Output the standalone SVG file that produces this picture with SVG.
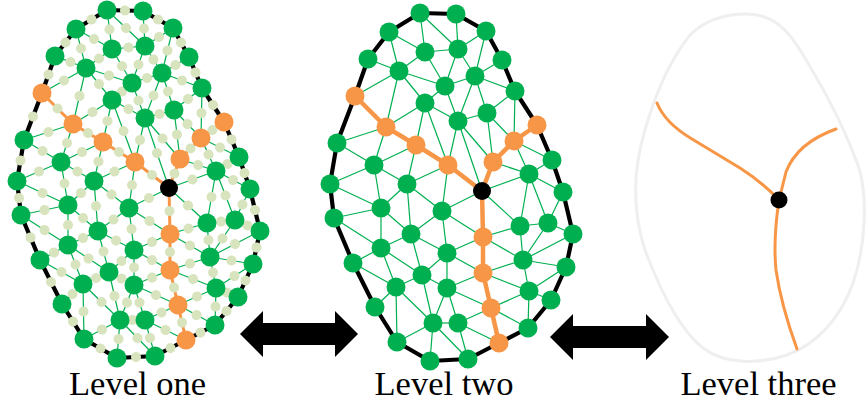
<svg xmlns="http://www.w3.org/2000/svg" xmlns:xlink="http://www.w3.org/1999/xlink" width="866" height="409" viewBox="0 0 866 409">
<style>
.edge{fill:none;stroke:#00B050;stroke-width:1.2}
.dots{fill:none;stroke:#D7E4BD;stroke-width:10;stroke-linecap:round;stroke-dasharray:0.002 0.998;stroke-dashoffset:0.501}
.outl{fill:none;stroke:#000;stroke-width:4.2;stroke-linejoin:round}
.rt1{fill:none;stroke:#F79646;stroke-width:3;stroke-linejoin:round;stroke-linecap:round}
.rt2{fill:none;stroke:#F79646;stroke-width:4.5;stroke-linejoin:round;stroke-linecap:round}
.g{fill:#00B050}
.o{fill:#F79646}
.k{fill:#000}
.lbl{font-family:"Liberation Serif","Times New Roman",serif;font-size:34.5px;fill:#000;text-anchor:middle}
.arrow{fill:#000}
</style>
<defs>
<g id="mesh-edges">
<path d="M420 13L456 14" pathLength="1"/><path d="M456 14L486 31" pathLength="1"/><path d="M486 31L502 60" pathLength="1"/><path d="M502 60L515 91" pathLength="1"/><path d="M515 91L537 125" pathLength="1"/><path d="M537 125L552 160" pathLength="1"/><path d="M552 160L563 192" pathLength="1"/><path d="M563 192L573 234" pathLength="1"/><path d="M573 234L566 267" pathLength="1"/><path d="M566 267L551 300" pathLength="1"/><path d="M551 300L528 328" pathLength="1"/><path d="M528 328L499 343" pathLength="1"/><path d="M499 343L468 359" pathLength="1"/><path d="M468 359L430 361" pathLength="1"/><path d="M430 361L397 342" pathLength="1"/><path d="M397 342L375 307" pathLength="1"/><path d="M375 307L353 263" pathLength="1"/><path d="M353 263L334 218" pathLength="1"/><path d="M334 218L330 184" pathLength="1"/><path d="M330 184L337 143" pathLength="1"/><path d="M337 143L355 96" pathLength="1"/><path d="M355 96L368 59" pathLength="1"/><path d="M368 59L389 32" pathLength="1"/><path d="M389 32L420 13" pathLength="1"/>
<path d="M420 13L425 52" pathLength="1"/><path d="M420 13L458 49" pathLength="1"/><path d="M456 14L458 49" pathLength="1"/><path d="M389 32L425 52" pathLength="1"/><path d="M389 32L399 71" pathLength="1"/><path d="M368 59L399 71" pathLength="1"/><path d="M355 96L399 71" pathLength="1"/><path d="M425 52L399 71" pathLength="1"/><path d="M425 52L458 49" pathLength="1"/><path d="M425 52L445 86" pathLength="1"/><path d="M458 49L445 86" pathLength="1"/><path d="M458 49L475 76" pathLength="1"/><path d="M458 49L486 31" pathLength="1"/><path d="M486 31L475 76" pathLength="1"/><path d="M502 60L475 76" pathLength="1"/><path d="M475 76L515 91" pathLength="1"/><path d="M475 76L445 86" pathLength="1"/><path d="M475 76L487 113" pathLength="1"/><path d="M487 113L515 91" pathLength="1"/><path d="M399 71L445 86" pathLength="1"/><path d="M399 71L425 103" pathLength="1"/><path d="M399 71L386 127" pathLength="1"/><path d="M445 86L425 103" pathLength="1"/><path d="M445 86L458 121" pathLength="1"/><path d="M425 103L458 121" pathLength="1"/><path d="M425 103L386 127" pathLength="1"/><path d="M425 103L416 145" pathLength="1"/><path d="M425 103L448 165" pathLength="1"/><path d="M458 121L448 165" pathLength="1"/><path d="M458 121L487 113" pathLength="1"/><path d="M458 121L493 162" pathLength="1"/><path d="M458 121L482 191" pathLength="1"/><path d="M487 113L493 162" pathLength="1"/><path d="M487 113L514 141" pathLength="1"/><path d="M515 91L514 141" pathLength="1"/><path d="M514 141L529 174" pathLength="1"/><path d="M514 141L552 160" pathLength="1"/><path d="M493 162L529 174" pathLength="1"/><path d="M482 191L529 174" pathLength="1"/><path d="M529 174L552 160" pathLength="1"/><path d="M529 174L563 192" pathLength="1"/><path d="M529 174L520 226" pathLength="1"/><path d="M529 174L548 223" pathLength="1"/><path d="M548 223L563 192" pathLength="1"/><path d="M548 223L573 234" pathLength="1"/><path d="M548 223L520 226" pathLength="1"/><path d="M548 223L523 260" pathLength="1"/><path d="M523 260L573 234" pathLength="1"/><path d="M523 260L566 267" pathLength="1"/><path d="M520 226L523 260" pathLength="1"/><path d="M520 226L483 237" pathLength="1"/><path d="M520 226L482 191" pathLength="1"/><path d="M523 260L483 237" pathLength="1"/><path d="M523 260L483 273" pathLength="1"/><path d="M529 291L523 260" pathLength="1"/><path d="M529 291L566 267" pathLength="1"/><path d="M529 291L551 300" pathLength="1"/><path d="M529 291L528 328" pathLength="1"/><path d="M529 291L491 308" pathLength="1"/><path d="M529 291L483 273" pathLength="1"/><path d="M386 127L337 143" pathLength="1"/><path d="M386 127L374 165" pathLength="1"/><path d="M337 143L374 165" pathLength="1"/><path d="M330 184L374 165" pathLength="1"/><path d="M374 165L416 145" pathLength="1"/><path d="M374 165L407 184" pathLength="1"/><path d="M416 145L407 184" pathLength="1"/><path d="M448 165L407 184" pathLength="1"/><path d="M442 211L448 165" pathLength="1"/><path d="M442 211L407 184" pathLength="1"/><path d="M442 211L482 191" pathLength="1"/><path d="M442 211L483 237" pathLength="1"/><path d="M442 211L447 253" pathLength="1"/><path d="M442 211L411 234" pathLength="1"/><path d="M407 184L411 234" pathLength="1"/><path d="M407 184L381 208" pathLength="1"/><path d="M374 165L381 208" pathLength="1"/><path d="M330 184L381 208" pathLength="1"/><path d="M334 218L381 208" pathLength="1"/><path d="M334 218L381 248" pathLength="1"/><path d="M353 263L381 248" pathLength="1"/><path d="M353 263L396 287" pathLength="1"/><path d="M375 307L396 287" pathLength="1"/><path d="M397 342L396 287" pathLength="1"/><path d="M397 342L433 323" pathLength="1"/><path d="M430 361L433 323" pathLength="1"/><path d="M381 208L411 234" pathLength="1"/><path d="M381 208L381 248" pathLength="1"/><path d="M411 234L381 248" pathLength="1"/><path d="M411 234L422 275" pathLength="1"/><path d="M411 234L447 253" pathLength="1"/><path d="M381 248L422 275" pathLength="1"/><path d="M381 248L396 287" pathLength="1"/><path d="M422 275L396 287" pathLength="1"/><path d="M422 275L447 253" pathLength="1"/><path d="M422 275L447 288" pathLength="1"/><path d="M422 275L433 323" pathLength="1"/><path d="M396 287L433 323" pathLength="1"/><path d="M447 253L447 288" pathLength="1"/><path d="M447 288L433 323" pathLength="1"/><path d="M447 288L458 323" pathLength="1"/><path d="M447 288L491 308" pathLength="1"/><path d="M447 288L483 273" pathLength="1"/><path d="M433 323L458 323" pathLength="1"/><path d="M458 323L491 308" pathLength="1"/><path d="M458 323L499 343" pathLength="1"/><path d="M458 323L468 359" pathLength="1"/><path d="M433 323L468 359" pathLength="1"/><path d="M447 253L483 237" pathLength="1"/><path d="M447 253L483 273" pathLength="1"/><path d="M491 308L528 328" pathLength="1"/><path d="M475 76L458 121" pathLength="1"/>
<path d="M355 96L386 127" pathLength="1"/><path d="M386 127L416 145" pathLength="1"/><path d="M416 145L448 165" pathLength="1"/><path d="M448 165L482 191" pathLength="1"/><path d="M537 125L514 141" pathLength="1"/><path d="M514 141L493 162" pathLength="1"/><path d="M493 162L482 191" pathLength="1"/><path d="M482 191L483 237" pathLength="1"/><path d="M483 237L483 273" pathLength="1"/><path d="M483 273L491 308" pathLength="1"/><path d="M491 308L499 343" pathLength="1"/>
</g>
<path id="outline" d="M420 13L456 14L486 31L502 60L515 91L537 125L552 160L563 192L573 234L566 267L551 300L528 328L499 343L468 359L430 361L397 342L375 307L353 263L334 218L330 184L337 143L355 96L368 59L389 32Z"/>
<g id="routes">
<path d="M355 96L386 127L416 145L448 165L482 191"/>
<path d="M537 125L514 141L493 162L482 191"/>
<path d="M482 191L483 237L483 273L491 308L499 343"/>
</g>
<g id="mesh-nodes">
<g class="g">
<circle cx="420" cy="13" r="9.5"/><circle cx="456" cy="14" r="9.5"/><circle cx="486" cy="31" r="9.5"/><circle cx="502" cy="60" r="9.5"/><circle cx="515" cy="91" r="9.5"/><circle cx="552" cy="160" r="9.5"/><circle cx="563" cy="192" r="9.5"/><circle cx="573" cy="234" r="9.5"/><circle cx="566" cy="267" r="9.5"/><circle cx="551" cy="300" r="9.5"/><circle cx="528" cy="328" r="9.5"/><circle cx="468" cy="359" r="9.5"/><circle cx="430" cy="361" r="9.5"/><circle cx="397" cy="342" r="9.5"/><circle cx="375" cy="307" r="9.5"/><circle cx="353" cy="263" r="9.5"/><circle cx="334" cy="218" r="9.5"/><circle cx="330" cy="184" r="9.5"/><circle cx="337" cy="143" r="9.5"/><circle cx="368" cy="59" r="9.5"/><circle cx="389" cy="32" r="9.5"/>
<circle cx="425" cy="52" r="9.5"/><circle cx="458" cy="49" r="9.5"/><circle cx="399" cy="71" r="9.5"/><circle cx="475" cy="76" r="9.5"/><circle cx="445" cy="86" r="9.5"/><circle cx="425" cy="103" r="9.5"/><circle cx="487" cy="113" r="9.5"/><circle cx="458" cy="121" r="9.5"/><circle cx="374" cy="165" r="9.5"/><circle cx="407" cy="184" r="9.5"/><circle cx="529" cy="174" r="9.5"/><circle cx="381" cy="208" r="9.5"/><circle cx="442" cy="211" r="9.5"/><circle cx="520" cy="226" r="9.5"/><circle cx="548" cy="223" r="9.5"/><circle cx="411" cy="234" r="9.5"/><circle cx="381" cy="248" r="9.5"/><circle cx="447" cy="253" r="9.5"/><circle cx="523" cy="260" r="9.5"/><circle cx="422" cy="275" r="9.5"/><circle cx="396" cy="287" r="9.5"/><circle cx="447" cy="288" r="9.5"/><circle cx="529" cy="291" r="9.5"/><circle cx="433" cy="323" r="9.5"/><circle cx="458" cy="323" r="9.5"/>
</g>
<g class="o">
<circle cx="355" cy="96" r="9.5"/><circle cx="386" cy="127" r="9.5"/><circle cx="416" cy="145" r="9.5"/><circle cx="448" cy="165" r="9.5"/><circle cx="537" cy="125" r="9.5"/><circle cx="514" cy="141" r="9.5"/><circle cx="493" cy="162" r="9.5"/><circle cx="483" cy="237" r="9.5"/><circle cx="483" cy="273" r="9.5"/><circle cx="491" cy="308" r="9.5"/><circle cx="499" cy="343" r="9.5"/>
</g>
<circle class="k" cx="482" cy="191" r="9"/>
</g>
</defs>

<g id="level-one" transform="translate(-313,-3)">
<use xlink:href="#mesh-edges" class="edge"/>
<use xlink:href="#outline" class="outl"/>
<use xlink:href="#routes" class="rt1"/>
<use xlink:href="#mesh-edges" class="dots"/>
<use xlink:href="#mesh-nodes"/>
</g>

<g id="level-two">
<use xlink:href="#mesh-edges" class="edge"/>
<use xlink:href="#outline" class="outl"/>
<use xlink:href="#routes" class="rt2"/>
<use xlink:href="#mesh-nodes"/>
</g>

<g id="level-three">
<path d="M747 14C780 14 795 40 812 70C830 100 845 130 858 165C868 195 866 245 853 283C840 320 815 345 787 355C760 364 725 365 703 348C680 330 660 290 645 250C632 210 633 170 645 130C655 95 670 60 690 35C705 20 725 14 747 14Z" fill="none" stroke="#EFEFEF" stroke-width="3"/>
<g class="rt1">
<path d="M657 103Q665 123 692 139L740 168Q762 182 779 200"/>
<path d="M836 129Q797 143 786 172L779 200"/>
<path d="M779 200Q773 240 776 270Q781 305 797 349"/>
</g>
<circle class="k" cx="779" cy="200" r="8.5"/>
</g>

<g id="connectors">
<polygon class="arrow" points="240,334 263,311 263,323 335,323 335,311 358,334 335,357 335,345 263,345 263,357"/>
<polygon class="arrow" points="550,337 573,314 573,326 646,326 646,314 669,337 646,360 646,348 573,348 573,360"/>
</g>

<g id="labels">
<text class="lbl" x="137.5" y="395">Level one</text>
<text class="lbl" x="444" y="395">Level two</text>
<text class="lbl" x="758.5" y="395">Level three</text>
</g>
</svg>
